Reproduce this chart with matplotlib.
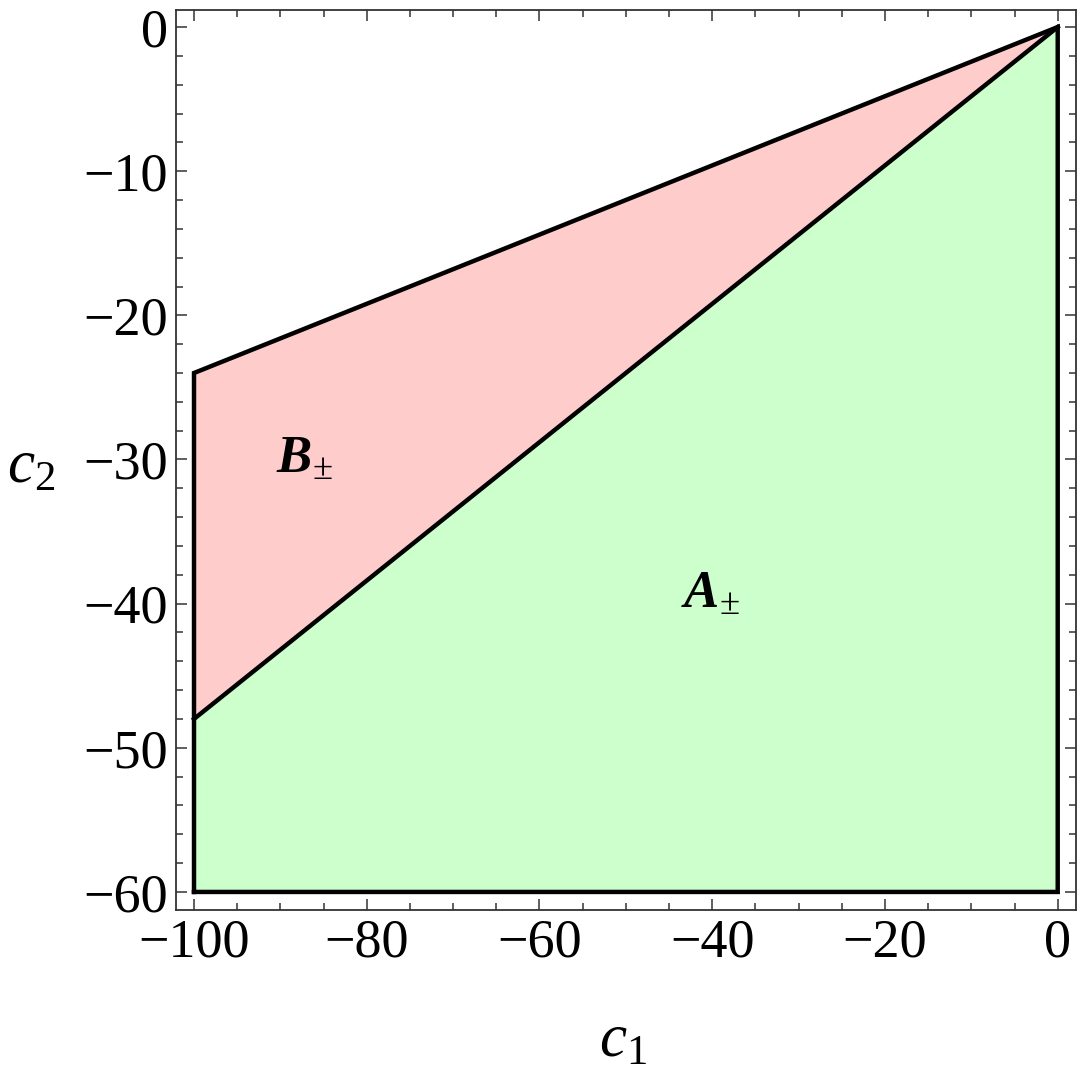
import numpy as np
import matplotlib.pyplot as plt
from matplotlib.ticker import MultipleLocator

plt.rcParams['font.family'] = ['Liberation Serif', 'DejaVu Serif']
plt.rcParams['mathtext.fontset'] = 'custom'
plt.rcParams['mathtext.rm'] = 'Liberation Serif'
plt.rcParams['mathtext.it'] = 'Liberation Serif:italic'
plt.rcParams['mathtext.bf'] = 'Liberation Serif:bold:italic'

# region boundaries (c1 from -100 to 0)
c1_edge = [-100, 0]
upper_c2 = [-24, 0]     # top of B region
middle_c2 = [-48, 0]    # line between A and B
bottom_c2 = -60

region_names = ['B', 'A']
label_pos = [(-90.5, -30.9), (-43.6, -40.3)]

x_ticks = [-100, -80, -60, -40, -20, 0]
y_ticks = [-60, -50, -40, -30, -20, -10, 0]

fig = plt.figure(figsize=(10.8, 10.82), dpi=100)
ax = fig.add_axes([0.163, 0.159, 0.833, 0.832])

c1 = np.array(c1_edge, dtype=float)
ax.fill_between(c1, middle_c2, upper_c2, color='#ffcccc', lw=0)
ax.fill_between(c1, bottom_c2, middle_c2, color='#ccffcc', lw=0)

# outline
ox = [c1_edge[0], c1_edge[0], c1_edge[1], c1_edge[1], c1_edge[0]]
oy = [bottom_c2, upper_c2[0], upper_c2[1], bottom_c2, bottom_c2]
ax.plot(ox, oy, color='black', lw=3.2, solid_joinstyle='miter')
ax.plot(c1, middle_c2, color='black', lw=3.2)

for name, (x, y) in zip(region_names, label_pos):
    ax.text(x, y, r'$\mathbf{%s}_{\pm}$' % name, fontsize=38, ha='left', va='baseline')

def fmt(v):
    return '\u2212%d' % -v if v < 0 else '%d' % v

ax.set_xticks(x_ticks)
ax.set_xticklabels([fmt(v) for v in x_ticks])
ax.set_yticks(y_ticks)
ax.set_yticklabels([fmt(v) for v in y_ticks])
ax.xaxis.set_minor_locator(MultipleLocator(5))
ax.yaxis.set_minor_locator(MultipleLocator(2))
ax.set_xlim(-102.08, 2.08)
ax.set_ylim(-61.25, 1.2)

ax.tick_params(which='both', direction='in', top=True, right=True,
               labeltop=False, labelright=False, color='#333333', width=1.1)
ax.tick_params(which='major', length=8, labelsize=39, pad=6)
ax.tick_params(which='minor', length=5)
for s in ax.spines.values():
    s.set_color('#333333')
    s.set_linewidth(1.3)

ax.set_xlabel(r'$c_1$', fontsize=44, va='center', ha='center')
ax.set_ylabel(r'$c_2$', fontsize=44, rotation=0, va='center', ha='center')
ax.xaxis.set_label_coords(0.497, -0.147)
ax.yaxis.set_label_coords(-0.161, 0.491)

fig.savefig('out.png', dpi=100)
